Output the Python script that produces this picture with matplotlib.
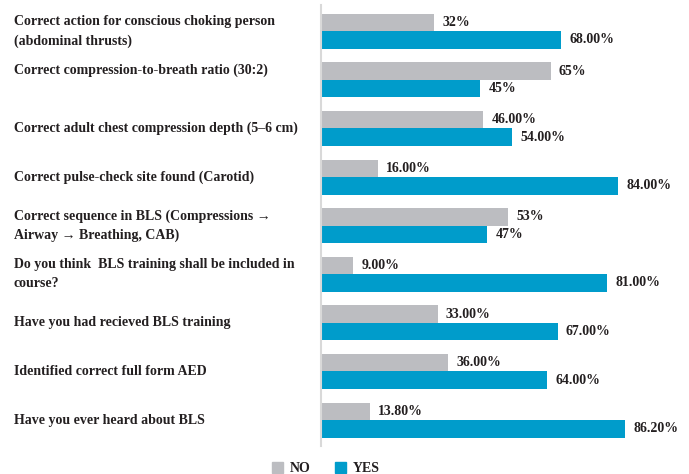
import numpy as np
import matplotlib.pyplot as plt
from matplotlib import rcParams
from matplotlib.transforms import blended_transform_factory
from matplotlib.patches import Patch

rcParams['font.family'] = 'serif'
rcParams['font.serif'] = ['Liberation Serif']
rcParams['font.size'] = 10
rcParams['font.weight'] = 'bold'

questions = [
    'Correct action for conscious choking person\n(abdominal thrusts)',
    'Correct compression-to-breath ratio (30:2)\n',
    'Correct adult chest compression depth (5\u20136 cm)',
    'Correct pulse-check site found (Carotid)',
    'Correct sequence in BLS (Compressions \u2192\nAirway \u2192 Breathing, CAB)',
    'Do you think  BLS training shall be included in\ncourse?',
    'Have you had recieved BLS training',
    'Identified correct full form AED',
    'Have you ever heard about BLS',
]
no_values = [32, 65, 46, 16, 53, 9, 33, 36, 13.8]
yes_values = [68, 45, 54, 84, 47, 81, 67, 64, 86.2]
no_labels = ['32%', '65%', '46.00%', '16.00%', '53%', '9.00%', '33.00%', '36.00%', '13.80%']
yes_labels = ['68.00%', '45%', '54.00%', '84.00%', '47%', '81.00%', '67.00%', '64.00%', '86.20%']

no_color = '#BCBDC1'
yes_color = '#009CCB'
text_color = '#231F20'

fig = plt.figure(figsize=(6.89, 4.74), dpi=100)
ax = fig.add_axes([0.466, 0.059, 0.534, 0.930])

y = np.arange(len(questions))
h = 0.36
ax.barh(y - h / 2, no_values, height=h, color=no_color)
ax.barh(y + h / 2, yes_values, height=h, color=yes_color)

for i in range(len(questions)):
    ax.annotate(no_labels[i], (no_values[i], y[i] - h / 2), xytext=(6, 0),
                textcoords='offset points', va='center', ha='left',
                color=text_color, annotation_clip=False)
    ax.annotate(yes_labels[i], (yes_values[i], y[i] + h / 2), xytext=(6, 0),
                textcoords='offset points', va='center', ha='left',
                color=text_color, annotation_clip=False)

trans = blended_transform_factory(fig.transFigure, ax.transData)
for i, q in enumerate(questions):
    ax.text(14 / 689, y[i], q, transform=trans, ha='left', va='center',
            color=text_color, linespacing=1.6)

ax.set_xlim(0, 104.2)
ax.set_ylim(len(questions) - 0.465, -0.535)
ax.set_xticks([])
ax.set_yticks([])
for s in ['top', 'right', 'bottom']:
    ax.spines[s].set_visible(False)
ax.spines['left'].set_color('#D9D9D9')
ax.spines['left'].set_linewidth(1.5)

handles = [Patch(color=no_color, label='NO'), Patch(color=yes_color, label='YES')]
fig.legend(handles=handles, loc='center', bbox_to_anchor=(0.473, 0.011), ncol=2,
           frameon=False, handlelength=0.8, handleheight=0.8, columnspacing=1.75,
           handletextpad=0.5, labelcolor=text_color)

fig.savefig('out.png', dpi=100)
